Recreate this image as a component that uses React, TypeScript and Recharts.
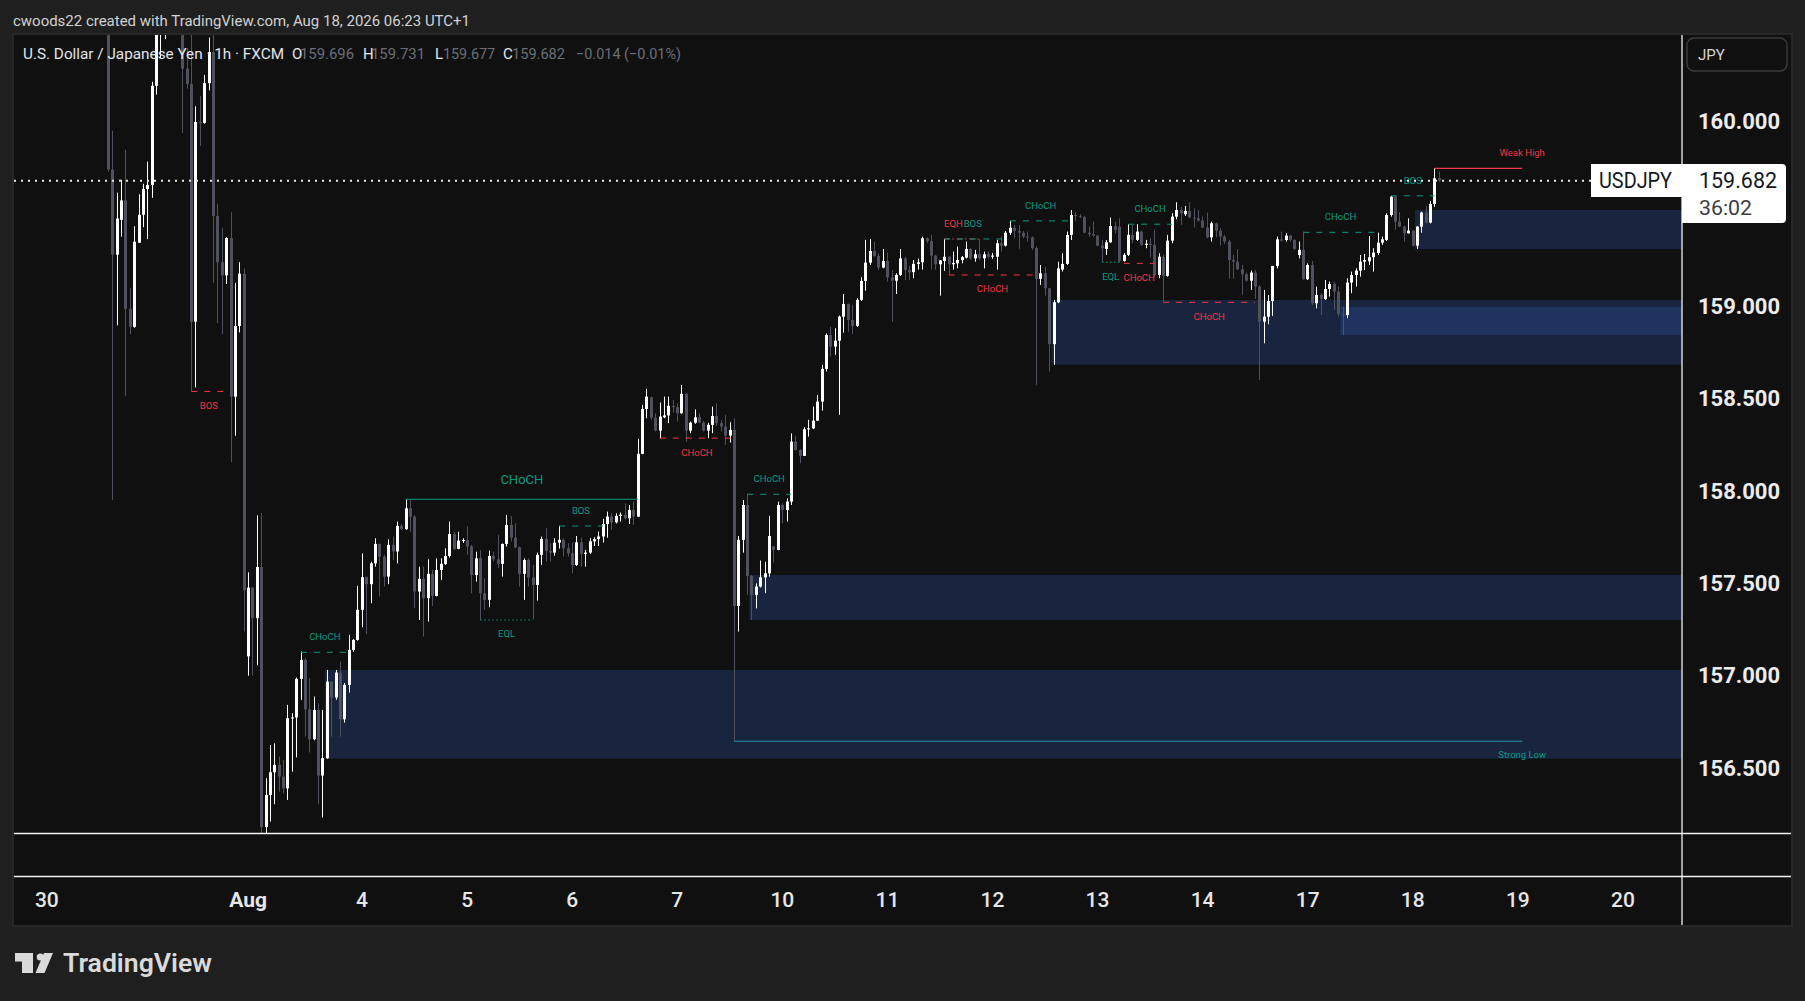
import React from 'react';
import { ComposedChart, Bar, XAxis, YAxis, ReferenceLine, ReferenceArea } from 'recharts';

type Ohlc = [number, number, number, number]; // open, high, low, close

// ---- hourly bars, one list per trading session (USD/JPY 1h, FXCM) ----
const jul30: Ohlc[] = [
  [160.6, 160.65, 159.73, 159.743], [159.743, 159.953, 157.952, 159.281], [159.281, 159.617, 158.898, 159.477],
  [159.47, 159.687, 159.379, 159.575], [159.575, 159.849, 158.517, 158.988], [158.988, 159.1, 158.85, 158.89],
  [158.89, 159.435, 158.885, 159.351], [159.346, 159.608, 159.345, 159.497], [159.497, 159.665, 159.43, 159.637],
  [159.637, 159.785, 159.365, 159.659],
];
const jul31: Ohlc[] = [
  [159.659, 160.218, 159.589, 160.196], [160.196, 160.6, 160.148, 160.52], [160.52, 160.75, 160.345, 160.68],
  [160.68, 160.85, 160.448, 160.78], [160.78, 160.95, 160.6, 160.88], [160.88, 161.0, 160.7, 160.8],
  [160.8, 160.9, 160.55, 160.62], [160.62, 160.7, 159.939, 160.289], [160.289, 160.4, 160.18, 160.205],
  [160.205, 160.55, 158.54, 158.918], [158.918, 160.085, 158.562, 160.0], [160.0, 160.14, 159.87, 159.995],
  [159.995, 160.255, 159.99, 160.21], [160.21, 160.457, 160.171, 160.378], [160.378, 160.52, 159.128, 159.491],
  [159.491, 159.556, 158.91, 159.24], [159.24, 159.427, 158.848, 159.169], [159.169, 159.375, 159.122, 159.371],
  [159.371, 159.511, 158.156, 158.512], [158.512, 159.128, 158.3, 158.895], [158.895, 159.24, 158.86, 159.178],
  [159.178, 159.206, 157.24, 157.463],
];
const aug2: Ohlc[] = [[157.105, 157.56, 157.0, 157.477], [157.477, 157.48, 157.0, 157.312]];
const aug3: Ohlc[] = [
  [157.312, 157.869, 157.057, 157.589], [157.589, 157.882, 156.12, 156.18], [156.18, 156.445, 156.13, 156.354],
  [156.354, 156.625, 156.21, 156.477], [156.477, 156.634, 156.304, 156.517], [156.517, 156.562, 156.372, 156.454],
  [156.454, 156.544, 156.363, 156.39], [156.39, 156.842, 156.327, 156.77], [156.77, 156.797, 156.48, 156.774],
  [156.774, 156.99, 156.558, 156.983], [156.983, 157.131, 156.869, 157.086], [157.086, 157.095, 156.67, 156.818],
  [156.818, 156.986, 156.584, 156.656], [156.656, 156.887, 156.65, 156.815], [156.815, 156.851, 156.304, 156.459],
  [156.459, 156.815, 156.232, 156.553], [156.553, 157.031, 156.55, 156.968], [156.968, 156.97, 156.67, 156.882],
  [156.882, 157.031, 156.87, 157.017], [157.017, 157.077, 156.67, 156.764], [156.764, 156.96, 156.746, 156.95],
  [156.95, 157.221, 156.909, 157.14], [157.14, 157.198, 157.13, 157.194], [157.194, 157.487, 157.19, 157.357],
];
const aug4: Ohlc[] = [
  [157.357, 157.663, 157.263, 157.534], [157.534, 157.537, 157.225, 157.496], [157.496, 157.618, 157.393, 157.609],
  [157.609, 157.745, 157.591, 157.714], [157.714, 157.716, 157.429, 157.645], [157.645, 157.655, 157.483, 157.537],
  [157.537, 157.739, 157.496, 157.709], [157.709, 157.754, 157.627, 157.673], [157.673, 157.835, 157.609, 157.812],
  [157.812, 157.822, 157.79, 157.794], [157.794, 157.956, 157.79, 157.907], [157.907, 157.952, 157.78, 157.862],
  [157.862, 157.87, 157.366, 157.456], [157.456, 157.591, 157.302, 157.525], [157.525, 157.591, 157.212, 157.42],
  [157.42, 157.631, 157.293, 157.552], [157.552, 157.573, 157.378, 157.432], [157.432, 157.636, 157.43, 157.573],
  [157.573, 157.636, 157.519, 157.606], [157.606, 157.69, 157.6, 157.649], [157.649, 157.835, 157.64, 157.768],
  [157.768, 157.78, 157.68, 157.687], [157.687, 157.78, 157.685, 157.732], [157.732, 157.745, 157.72, 157.735],
];
const aug5: Ohlc[] = [
  [157.735, 157.808, 157.655, 157.7], [157.7, 157.708, 157.447, 157.546], [157.546, 157.672, 157.51, 157.636],
  [157.636, 157.681, 157.302, 157.447], [157.447, 157.528, 157.357, 157.411], [157.411, 157.678, 157.371, 157.649],
  [157.649, 157.672, 157.62, 157.631], [157.631, 157.763, 157.582, 157.606], [157.606, 157.716, 157.537, 157.714],
  [157.714, 157.871, 157.7, 157.817], [157.817, 157.866, 157.727, 157.749], [157.749, 157.826, 157.69, 157.696],
  [157.696, 157.7, 157.483, 157.552], [157.552, 157.636, 157.411, 157.627], [157.627, 157.635, 157.483, 157.533],
  [157.533, 157.6, 157.306, 157.492], [157.492, 157.667, 157.407, 157.655], [157.655, 157.754, 157.6, 157.741],
  [157.741, 157.799, 157.618, 157.676], [157.676, 157.718, 157.618, 157.667], [157.667, 157.745, 157.65, 157.721],
  [157.721, 157.812, 157.689, 157.736], [157.736, 157.745, 157.645, 157.69], [157.69, 157.718, 157.645, 157.663],
];
const aug6: Ohlc[] = [
  [157.663, 157.721, 157.555, 157.6], [157.6, 157.757, 157.595, 157.723], [157.723, 157.75, 157.591, 157.66],
  [157.66, 157.682, 157.591, 157.667], [157.667, 157.745, 157.66, 157.728], [157.728, 157.75, 157.703, 157.74],
  [157.74, 157.781, 157.703, 157.754], [157.754, 157.85, 157.721, 157.822], [157.822, 157.889, 157.748, 157.862],
  [157.862, 157.88, 157.79, 157.831], [157.831, 157.88, 157.825, 157.866], [157.866, 157.884, 157.835, 157.872],
  [157.872, 157.934, 157.847, 157.853], [157.853, 157.925, 157.822, 157.898], [157.898, 157.943, 157.817, 157.862],
  [157.862, 158.283, 157.86, 158.202], [158.202, 158.467, 158.2, 158.445], [158.445, 158.554, 158.395, 158.512],
  [158.508, 158.512, 158.386, 158.398], [158.398, 158.421, 158.323, 158.328], [158.328, 158.48, 158.287, 158.404],
  [158.4, 158.512, 158.395, 158.41], [158.41, 158.512, 158.368, 158.462], [158.462, 158.494, 158.425, 158.455],
];
const aug7: Ohlc[] = [
  [158.455, 158.476, 158.377, 158.422], [158.422, 158.575, 158.42, 158.527], [158.527, 158.53, 158.268, 158.328],
  [158.328, 158.377, 158.314, 158.371], [158.371, 158.443, 158.365, 158.4], [158.4, 158.421, 158.368, 158.371],
  [158.371, 158.38, 158.323, 158.328], [158.328, 158.37, 158.287, 158.359], [158.359, 158.458, 158.314, 158.407],
  [158.407, 158.476, 158.353, 158.368], [158.368, 158.386, 158.323, 158.35], [158.35, 158.413, 158.25, 158.301],
  [158.301, 158.373, 158.263, 158.332], [158.332, 158.395, 156.645, 157.378], [157.378, 157.757, 157.239, 157.736],
  [157.736, 157.952, 157.667, 157.925], [157.925, 157.985, 157.438, 157.541], [157.541, 157.545, 157.302, 157.438],
  [157.438, 157.5, 157.365, 157.483], [157.483, 157.624, 157.478, 157.533], [157.533, 157.618, 157.447, 157.555],
  [157.555, 157.866, 157.537, 157.757],
];
const aug9: Ohlc[] = [[157.7, 157.703, 157.613, 157.681], [157.681, 157.943, 157.68, 157.925]];
const aug10: Ohlc[] = [
  [157.925, 157.934, 157.826, 157.898], [157.898, 157.961, 157.835, 157.943], [157.943, 158.313, 157.925, 158.268],
  [158.268, 158.299, 158.22, 158.223], [158.223, 158.227, 158.151, 158.191], [158.191, 158.346, 158.19, 158.335],
  [158.335, 158.386, 158.295, 158.34], [158.34, 158.458, 158.336, 158.382], [158.382, 158.521, 158.38, 158.485],
  [158.485, 158.684, 158.436, 158.662], [158.662, 158.855, 158.648, 158.846], [158.846, 158.891, 158.729, 158.783],
  [158.783, 158.882, 158.738, 158.815], [158.815, 158.951, 158.413, 158.945], [158.945, 159.068, 158.859, 159.014],
  [159.014, 159.016, 158.864, 158.927], [158.927, 159.009, 158.851, 158.895], [158.895, 159.045, 158.89, 159.036],
  [159.036, 159.159, 159.03, 159.139], [159.139, 159.361, 159.086, 159.238], [159.238, 159.366, 159.225, 159.301],
  [159.301, 159.352, 159.27, 159.274], [159.274, 159.288, 159.198, 159.211], [159.211, 159.312, 159.207, 159.247],
];
const aug11: Ohlc[] = [
  [159.247, 159.292, 159.135, 159.158], [159.158, 159.198, 158.918, 159.14], [159.14, 159.18, 159.068, 159.171],
  [159.171, 159.312, 159.165, 159.261], [159.261, 159.27, 159.144, 159.198], [159.198, 159.22, 159.144, 159.185],
  [159.186, 159.252, 159.153, 159.231], [159.231, 159.26, 159.2, 159.24], [159.24, 159.379, 159.2, 159.37],
  [159.37, 159.375, 159.343, 159.355], [159.355, 159.388, 159.2, 159.276], [159.276, 159.28, 159.2, 159.229],
  [159.229, 159.252, 159.059, 159.25], [159.247, 159.366, 159.193, 159.27], [159.27, 159.272, 159.171, 159.229],
  [159.229, 159.298, 159.2, 159.236], [159.234, 159.325, 159.207, 159.252], [159.252, 159.274, 159.234, 159.268],
  [159.265, 159.352, 159.26, 159.312], [159.312, 159.316, 159.252, 159.261], [159.261, 159.307, 159.243, 159.283],
  [159.283, 159.366, 159.252, 159.261], [159.261, 159.298, 159.207, 159.283], [159.283, 159.298, 159.26, 159.27],
];
const aug12: Ohlc[] = [
  [159.27, 159.289, 159.258, 159.276], [159.27, 159.361, 159.2, 159.343], [159.343, 159.379, 159.298, 159.33],
  [159.33, 159.409, 159.325, 159.4], [159.4, 159.464, 159.388, 159.427], [159.427, 159.442, 159.37, 159.41],
  [159.41, 159.442, 159.312, 159.4], [159.4, 159.409, 159.37, 159.379], [159.379, 159.406, 159.352, 159.374],
  [159.374, 159.38, 159.307, 159.316], [159.316, 159.325, 158.575, 159.15], [159.15, 159.225, 159.117, 159.18],
  [159.18, 159.216, 159.059, 159.099], [159.099, 159.1, 158.648, 158.796], [158.796, 159.036, 158.684, 159.023],
  [159.023, 159.243, 159.018, 159.207], [159.2, 159.289, 159.19, 159.231], [159.231, 159.406, 159.225, 159.388],
  [159.388, 159.523, 159.361, 159.496], [159.496, 159.514, 159.464, 159.49], [159.49, 159.5, 159.48, 159.485],
  [159.485, 159.49, 159.397, 159.4], [159.4, 159.433, 159.379, 159.392], [159.392, 159.46, 159.379, 159.384],
];
const aug13: Ohlc[] = [
  [159.384, 159.388, 159.325, 159.33], [159.33, 159.361, 159.24, 159.316], [159.312, 159.36, 159.28, 159.348],
  [159.348, 159.482, 159.345, 159.436], [159.436, 159.46, 159.397, 159.415], [159.433, 159.478, 159.24, 159.247],
  [159.247, 159.289, 159.243, 159.28], [159.28, 159.446, 159.274, 159.388], [159.388, 159.442, 159.343, 159.361],
  [159.361, 159.446, 159.355, 159.406], [159.406, 159.41, 159.328, 159.334], [159.334, 159.361, 159.316, 159.34],
  [159.34, 159.37, 159.265, 159.334], [159.334, 159.415, 159.162, 159.171], [159.171, 159.289, 159.153, 159.27],
  [159.27, 159.28, 159.027, 159.166], [159.166, 159.388, 159.162, 159.357], [159.357, 159.505, 159.343, 159.487],
  [159.487, 159.565, 159.473, 159.523], [159.523, 159.541, 159.442, 159.505], [159.5, 159.545, 159.491, 159.518],
  [159.518, 159.565, 159.478, 159.482], [159.482, 159.532, 159.428, 159.478], [159.478, 159.523, 159.46, 159.466],
];
const aug14: Ohlc[] = [
  [159.466, 159.487, 159.424, 159.428], [159.428, 159.509, 159.37, 159.375], [159.375, 159.46, 159.352, 159.451],
  [159.451, 159.455, 159.375, 159.411], [159.411, 159.424, 159.33, 159.379], [159.379, 159.388, 159.339, 159.352],
  [159.352, 159.361, 159.15, 159.252], [159.252, 159.28, 159.15, 159.243], [159.243, 159.31, 159.198, 159.202],
  [159.202, 159.225, 159.063, 159.175], [159.175, 159.184, 159.135, 159.14], [159.14, 159.195, 159.09, 159.184],
  [159.184, 159.198, 159.041, 159.108], [159.108, 159.117, 158.602, 158.918], [158.918, 159.09, 158.801, 158.945],
  [158.945, 159.063, 158.904, 159.03], [159.03, 159.22, 158.949, 159.22], [159.22, 159.379, 159.207, 159.364],
  [159.364, 159.406, 159.352, 159.357], [159.36, 159.397, 159.352, 159.384], [159.384, 159.388, 159.352, 159.361],
  [159.361, 159.364, 159.307, 159.312],
];
const aug16: Ohlc[] = [[159.279, 159.352, 159.261, 159.307], [159.307, 159.406, 159.144, 159.148]];
const aug17: Ohlc[] = [
  [159.148, 159.234, 159.144, 159.225], [159.225, 159.247, 159.009, 159.018], [159.018, 159.108, 158.99, 159.063],
  [159.063, 159.072, 158.954, 159.04], [159.04, 159.144, 159.036, 159.095], [159.095, 159.135, 159.054, 159.122],
  [159.122, 159.135, 158.982, 159.081], [159.081, 159.108, 158.945, 158.958], [158.958, 159.0, 158.846, 158.954],
  [158.954, 159.153, 158.936, 159.13], [159.13, 159.189, 159.072, 159.171], [159.171, 159.207, 159.108, 159.195],
  [159.195, 159.279, 159.162, 159.243], [159.243, 159.285, 159.198, 159.252], [159.245, 159.382, 159.225, 159.267],
  [159.267, 159.316, 159.189, 159.292], [159.29, 159.4, 159.279, 159.346], [159.346, 159.379, 159.334, 159.364],
  [159.361, 159.505, 159.355, 159.496], [159.496, 159.599, 159.487, 159.595], [159.595, 159.599, 159.415, 159.46],
  [159.46, 159.511, 159.43, 159.433], [159.433, 159.437, 159.352, 159.397], [159.397, 159.478, 159.395, 159.411],
];
const aug18: Ohlc[] = [
  [159.411, 159.415, 159.325, 159.33], [159.33, 159.435, 159.312, 159.433], [159.433, 159.514, 159.4, 159.509],
  [159.509, 159.545, 159.451, 159.455], [159.455, 159.572, 159.45, 159.556], [159.556, 159.749, 159.54, 159.695],
  [159.696, 159.731, 159.677, 159.682],
];

const SESSIONS: Ohlc[][] = [jul30, jul31, aug2, aug3, aug4, aug5, aug6, aug7, aug9, aug10, aug11, aug12, aug13, aug14, aug16, aug17, aug18];
const FIRST_BAR_SLOT = 21;
const SLOT_COUNT = 381;

// ---- axes ----
const DAY_TICK_SLOTS = [7, 53, 79, 103, 127, 151, 175, 199, 223, 247, 271, 295, 319, 343, 367];
const DAY_TICK_LABELS = ['30', 'Aug', '4', '5', '6', '7', '10', '11', '12', '13', '14', '17', '18', '19', '20'];
const PRICE_TICKS = [156.5, 157, 157.5, 158, 158.5, 159, 160];
const PRICE_MIN = 156.148;
const PRICE_MAX = 160.471;
const LAST_PRICE = 159.682;

// ---- order-block zones ----
const zoneStart = [71, 168, 237, 303, 320];
const zoneTop = [157.031, 157.546, 159.036, 158.998, 159.523];
const zoneBottom = [156.55, 157.302, 158.684, 158.846, 159.312];

// ---- market-structure levels ----
type Level = { kind: string; side: 'bull' | 'bear'; from: number; to: number; price: number };
const STRUCTURE: Level[] = [
  { kind: 'BOS', side: 'bear', from: 40, to: 48, price: 158.54 },
  { kind: 'CHoCH', side: 'bull', from: 65, to: 76, price: 157.127 },
  { kind: 'SWING_CHOCH', side: 'bull', from: 89, to: 142, price: 157.956 },
  { kind: 'EQL', side: 'bull', from: 106, to: 118, price: 157.302 },
  { kind: 'BOS', side: 'bull', from: 124, to: 134, price: 157.811 },
  { kind: 'CHoCH', side: 'bear', from: 147, to: 164, price: 158.287 },
  { kind: 'CHoCH', side: 'bull', from: 167, to: 177, price: 157.983 },
  { kind: 'EQH', side: 'bear', from: 212, to: 220, price: 159.366 },
  { kind: 'BOS', side: 'bull', from: 212, to: 225, price: 159.366 },
  { kind: 'CHoCH', side: 'bear', from: 213, to: 233, price: 159.171 },
  { kind: 'CHoCH', side: 'bull', from: 227, to: 241, price: 159.464 },
  { kind: 'EQL', side: 'bull', from: 248, to: 252, price: 159.24 },
  { kind: 'CHoCH', side: 'bear', from: 253, to: 260, price: 159.234 },
  { kind: 'CHoCH', side: 'bull', from: 254, to: 264, price: 159.446 },
  { kind: 'CHoCH', side: 'bear', from: 262, to: 283, price: 159.023 },
  { kind: 'CHoCH', side: 'bull', from: 294, to: 311, price: 159.402 },
  { kind: 'BOS', side: 'bull', from: 314, to: 324, price: 159.6 },
];
const TRAILING: Level[] = [
  { kind: 'Weak High', side: 'bear', from: 324, to: 344, price: 159.749 },
  { kind: 'Strong Low', side: 'bull', from: 164, to: 344, price: 156.645 },
];

// ---- derived chart rows ----
const bars = SESSIONS.flat();
const chartData = Array.from({ length: SLOT_COUNT }, (_, i) => {
  const b = bars[i - FIRST_BAR_SLOT];
  return b ? { i, o: b[0], h: b[1], l: b[2], c: b[3] } : { i };
});

const FONT = "Roboto, 'Liberation Sans', Arial, sans-serif";
const BULL = '#089981';
const BEAR = '#f23645';
const STRONG = '#2196a3';
const UP = '#ffffff';
const DOWN = '#4f525d';

const Candle = (props: any) => {
  const { x, y, width, height, payload } = props;
  if (!payload || payload.o == null || !Number.isFinite(y) || !Number.isFinite(height)) return null;
  const { o, h, l, c } = payload;
  const top = Math.min(y, y + height);
  const bottom = Math.max(y, y + height);
  const k = (bottom - top) / (h - l || 1e-6);
  const yo = top + (h - o) * k;
  const yc = top + (h - c) * k;
  const color = c >= o ? UP : DOWN;
  const cx = Math.round(x + width / 2) + 0.5;
  const bt = Math.min(yo, yc);
  const bh = Math.max(Math.abs(yc - yo), 1);
  return (
    <g>
      <line x1={cx} x2={cx} y1={top} y2={bottom} stroke={color} strokeWidth={1} />
      <rect x={cx - 1.5} y={bt} width={3} height={bh} fill={color} />
    </g>
  );
};

const DayTick = (props: any) => {
  const { x, payload } = props;
  const idx = DAY_TICK_SLOTS.indexOf(payload.value);
  const label = DAY_TICK_LABELS[idx] ?? '';
  return (
    <text x={x} y={865} textAnchor="middle" dominantBaseline="central" fill="#e6e6e6"
      fontFamily={FONT} fontSize={21} fontWeight={label === 'Aug' ? 700 : 500}>
      {label}
    </text>
  );
};

const PriceTick = (props: any) => {
  const { y, payload } = props;
  return (
    <text x={1684} y={y} textAnchor="start" dominantBaseline="central" fill="#ececec"
      fontFamily={FONT} fontSize={22} fontWeight={700}>
      {Number(payload.value).toFixed(3)}
    </text>
  );
};

type Anchor = 'middle' | 'end' | 'endOfMid';
function levelLabel(text: string, color: string, above: boolean, anchor: Anchor, size: number, gap: number) {
  return (props: any) => {
    const vb = props.viewBox ?? {};
    const x0 = vb.x ?? vb.x1 ?? 0;
    const w = vb.width ?? ((vb.x2 ?? x0) - x0);
    const y0 = vb.y ?? vb.y1 ?? 0;
    const x = anchor === 'end' ? x0 + w : anchor === 'endOfMid' ? x0 + w / 2 + 1 : x0 + w / 2;
    const yy = above ? y0 - gap : y0 + gap;
    return (
      <text x={x} y={yy} fill={color} fontSize={size} fontFamily={FONT}
        textAnchor={anchor === 'endOfMid' ? 'end' : 'middle'} dominantBaseline="central">
        {text}
      </text>
    );
  };
}

function levelStyle(s: Level) {
  const color = s.side === 'bull' ? BULL : BEAR;
  if (s.kind === 'EQL') return { color, dash: '1.5 2.5', text: 'EQL', above: false, size: 9.5, gap: 14, anchor: 'middle' as Anchor };
  if (s.kind === 'EQH') return { color, dash: '5 3 1.5 3', text: 'EQH', above: true, size: 9.5, gap: 15.5, anchor: 'endOfMid' as Anchor };
  if (s.kind === 'SWING_CHOCH') return { color, dash: undefined, text: 'CHoCH', above: true, size: 13, gap: 20, anchor: 'middle' as Anchor };
  return { color, dash: '6 7', text: s.kind, above: s.side === 'bull', size: 9.5, gap: s.side === 'bull' ? 15.5 : 14, anchor: 'middle' as Anchor };
}

export default function App() {
  return (
    <div style={{ position: 'absolute', left: 0, top: 0, width: 1805, height: 1001, background: '#1f1f1f', overflow: 'hidden' }}>
      <svg width={1805} height={1001} style={{ position: 'absolute', left: 0, top: 0 }}>
        <rect x={13} y={34} width={1779} height={892} fill="#101010" stroke="#2e2e2e" strokeWidth={1.5} />
      </svg>

      <div style={{ position: 'absolute', left: 14, top: 35, width: 1778, height: 890, overflow: 'hidden' }}>
        <ComposedChart width={1778} height={890} data={chartData} margin={{ top: 0, right: 0, bottom: 0, left: 0 }}
          barCategoryGap={0} barGap={0}>
          <XAxis dataKey="i" type="category" height={92} ticks={DAY_TICK_SLOTS} interval={0}
            tick={<DayTick />} axisLine={false} tickLine={false} />
          <YAxis orientation="right" width={110} type="number" domain={[PRICE_MIN, PRICE_MAX]} allowDataOverflow
            ticks={PRICE_TICKS} interval={0} tick={<PriceTick />} axisLine={false} tickLine={false} />
          {zoneStart.map((s, k) => (
            <ReferenceArea key={`z${k}`} x1={s} x2={SLOT_COUNT - 1} y1={zoneBottom[k]} y2={zoneTop[k]}
              fill="#2d56aa" fillOpacity={0.3} stroke="none" />
          ))}
          <Bar dataKey={(d: any) => (d.h == null ? null : [d.l, d.h])} shape={<Candle />} isAnimationActive={false} />
          {STRUCTURE.map((s, k) => {
            const st = levelStyle(s);
            return (
              <ReferenceLine key={`s${k}`} segment={[{ x: s.from, y: s.price }, { x: s.to, y: s.price }]}
                stroke={st.color} strokeWidth={1} strokeDasharray={st.dash}
                label={levelLabel(st.text, st.color, st.above, st.anchor, st.size, st.gap)} />
            );
          })}
          {TRAILING.map((s, k) => {
            const strong = s.kind === 'Strong Low';
            const color = strong ? STRONG : BEAR;
            return (
              <ReferenceLine key={`t${k}`} segment={[{ x: s.from, y: s.price }, { x: s.to, y: s.price }]}
                stroke={color} strokeWidth={1.2}
                label={levelLabel(s.kind, strong ? BULL : BEAR, !strong, 'end', 9.5, strong ? 13.3 : 15.6)} />
            );
          })}
          <ReferenceLine y={LAST_PRICE} stroke="#e8e8e8" strokeWidth={2} strokeDasharray="2 5" />
        </ComposedChart>
      </div>

      <svg width={1805} height={1001} style={{ position: 'absolute', left: 0, top: 0, pointerEvents: 'none' }}
        fontFamily={FONT}>
        {/* pane separators */}
        <line x1={1682} x2={1682} y1={35} y2={925} stroke="#f2f2f2" strokeWidth={1.3} />
        <line x1={14} x2={1791} y1={833.5} y2={833.5} stroke="#f2f2f2" strokeWidth={1.3} />
        <line x1={14} x2={1791} y1={876.5} y2={876.5} stroke="#f2f2f2" strokeWidth={1.3} />

        {/* header */}
        <text x={13} y={26} fontSize={15} fill="#d2d2d2" textLength={457} lengthAdjust="spacingAndGlyphs">
          cwoods22 created with TradingView.com, Aug 18, 2026 06:23 UTC+1
        </text>

        {/* legend */}
        <g fontSize={15}>
          <text x={23} y={59} fill="#e3e5ea" textLength={261} lengthAdjust="spacingAndGlyphs">U.S. Dollar / Japanese Yen · 1h · FXCM</text>
          <text x={292} y={59} fill="#e3e5ea">O</text>
          <text x={300} y={59} fill="#6b6e79" textLength={54} lengthAdjust="spacingAndGlyphs">159.696</text>
          <text x={363} y={59} fill="#e3e5ea">H</text>
          <text x={371} y={59} fill="#6b6e79" textLength={54} lengthAdjust="spacingAndGlyphs">159.731</text>
          <text x={435} y={59} fill="#e3e5ea">L</text>
          <text x={443} y={59} fill="#6b6e79" textLength={52} lengthAdjust="spacingAndGlyphs">159.677</text>
          <text x={503} y={59} fill="#e3e5ea">C</text>
          <text x={512} y={59} fill="#6b6e79" textLength={53} lengthAdjust="spacingAndGlyphs">159.682</text>
          <text x={576} y={59} fill="#6b6e79" textLength={105} lengthAdjust="spacingAndGlyphs">−0.014 (−0.01%)</text>
        </g>

        {/* currency button */}
        <rect x={1687} y={38} width={100} height={33} rx={7} fill="#101010" stroke="#3a3a3a" strokeWidth={1.5} />
        <text x={1698} y={55} fontSize={15} fill="#d6d6d6" dominantBaseline="central">JPY</text>

        {/* last price label */}
        <rect x={1591} y={164} width={92} height={33} fill="#ffffff" />
        <path d="M1682 164 H1782 Q1786 164 1786 168 V219 Q1786 223 1782 223 H1682 Z" fill="#ffffff" />
        <text x={1599} y={188} fontSize={22} fill="#131722" textLength={73} lengthAdjust="spacingAndGlyphs">USDJPY</text>
        <text x={1699} y={188} fontSize={22} fill="#131722" textLength={78} lengthAdjust="spacingAndGlyphs">159.682</text>
        <text x={1699} y={215} fontSize={21} fill="#3c3c3c" textLength={53} lengthAdjust="spacingAndGlyphs">36:02</text>

        {/* TradingView logo */}
        <g fill="#dadada">
          <rect x={15} y={953} width={18} height={8.5} />
          <rect x={22} y={953} width={11} height={20} />
          <circle cx={40.3} cy={957} r={3.6} />
          <polygon points="44,953 53,953 44.5,973 35.5,973" />
        </g>
        <text x={63} y={971.5} fontSize={26} fontWeight={600} fill="#dadada" textLength={149} lengthAdjust="spacingAndGlyphs">TradingView</text>
      </svg>
    </div>
  );
}
